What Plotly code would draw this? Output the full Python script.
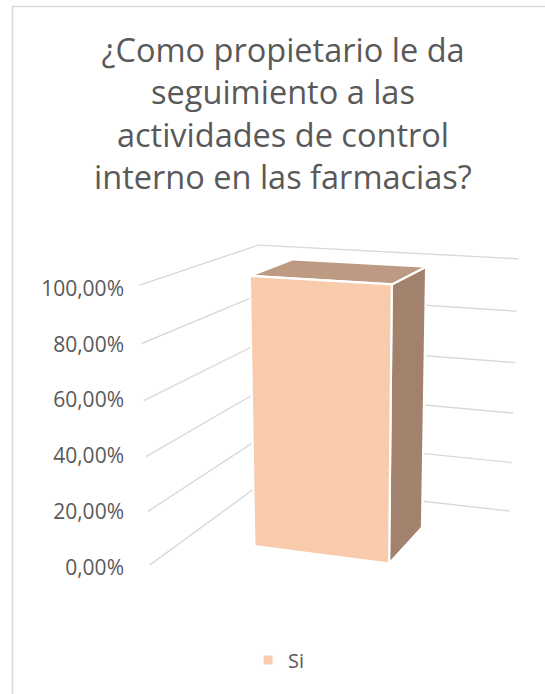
import numpy as np
import plotly.graph_objects as go

# ---- data ----
categories = ["Si"]
values = [1.0]                      # 100,00 %
tick_values = [0, 0.2, 0.4, 0.6, 0.8, 1.0]
axis_max = 1.0
title_text = "¿Como propietario le da<br>seguimiento a las<br>actividades de control<br>interno en las farmacias?"

# ---- style / 3-D view (Excel-like rotation X=20°, Y=15°, perspective) ----
W_PX, H_PX = 545, 694
YAW, PITCH = np.radians(20), np.radians(15)
FOCAL, CX, CY = 1398.0, 340.0, 415.0
BOX_W, BOX_D, BOX_H = 1.061, 1.009, 1.0
ORIGIN_CAM = np.array([-0.327, -0.285, 5.862])   # camera coords of back-left floor corner
BAR_WIDTH, BAR_DEPTH = 0.49, 0.40
FRONT_COLOR, TOP_COLOR, SIDE_COLOR = "#F8CBAD", "#BE9A83", "#A3826D"
GRID_COLOR, TEXT_COLOR = "#D9D9D9", "#595959"
FONT = "Open Sans"

cyw, syw = np.cos(YAW), np.sin(YAW)
cp, sp = np.cos(PITCH), np.sin(PITCH)
XDIR = np.array([cyw, -syw * sp, -syw * cp])
ZDIR = np.array([syw, cyw * sp, cyw * cp])
YDIR = np.array([0.0, cp, -sp])


def project(X, Z, Y):
    """X: 0..1 across, Z: 0 front .. 1 back, Y: value fraction 0..1 -> pixel (x, y)."""
    P = ORIGIN_CAM + X * BOX_W * XDIR + (Z - 1) * BOX_D * ZDIR + Y * BOX_H * YDIR
    return CX + FOCAL * P[0] / P[2], CY - FOCAL * P[1] / P[2]


def poly(pts):
    xs, ys = zip(*[project(*p) for p in pts])
    return list(xs) + [xs[0]], list(ys) + [ys[0]]


fig = go.Figure()

# gridlines on left wall and back wall
gx, gy = [], []
for t in tick_values:
    Y = t / axis_max
    for a, b in [((0, 0, Y), (0, 1, Y)), ((0, 1, Y), (1, 1, Y))]:
        p, q = project(*a), project(*b)
        gx += [p[0], q[0], None]
        gy += [p[1], q[1], None]
fig.add_trace(go.Scatter(x=gx, y=gy, mode="lines", line=dict(color=GRID_COLOR, width=1.4),
                         hoverinfo="skip", showlegend=False))

# bars
n = len(categories)
for i, (cat, v) in enumerate(zip(categories, values)):
    c = (i + 0.5) / n
    x0, x1 = c - BAR_WIDTH / (2 * n), c + BAR_WIDTH / (2 * n)
    z0, z1 = 0.5 - BAR_DEPTH / 2, 0.5 + BAR_DEPTH / 2
    Y = v / axis_max
    faces = [
        ([(x1, z0, 0), (x1, z1, 0), (x1, z1, Y), (x1, z0, Y)], SIDE_COLOR),
        ([(x0, z0, Y), (x1, z0, Y), (x1, z1, Y), (x0, z1, Y)], TOP_COLOR),
        ([(x0, z0, 0), (x1, z0, 0), (x1, z0, Y), (x0, z0, Y)], FRONT_COLOR),
    ]
    for pts, col in faces:
        xs, ys = poly(pts)
        fig.add_trace(go.Scatter(x=xs, y=ys, mode="lines", fill="toself", fillcolor=col,
                                 line=dict(color="white", width=2.2), hoverinfo="skip",
                                 showlegend=False))

# value axis (tick labels) aligned with the projected front-left edge
py0 = project(0, 0, 0)[1] + 2.5
py1 = project(0, 0, 1)[1] + 3.5
f0, f1 = 1 - py0 / H_PX, 1 - py1 / H_PX
span = axis_max / (f1 - f0)
r0 = -f0 * span
r1 = r0 + span

# legend entry
fig.add_trace(go.Scatter(x=[None], y=[None], yaxis="y2", mode="markers", name=categories[0],
                         marker=dict(symbol="square", size=9, color=FRONT_COLOR)))

fig.update_layout(
    width=W_PX, height=H_PX,
    margin=dict(l=0, r=0, t=0, b=0),
    paper_bgcolor="white", plot_bgcolor="white",
    separators=",.",
    font=dict(family=FONT, color=TEXT_COLOR),
    title=dict(text=title_text, x=283 / W_PX, xanchor="center", y=1 - 62 / H_PX, yanchor="top",
               font=dict(size=32.5, color=TEXT_COLOR, family=FONT)),
    xaxis=dict(range=[0, W_PX], visible=False, fixedrange=True),
    yaxis=dict(range=[H_PX, 0], visible=False, fixedrange=True),
    yaxis2=dict(range=[r0, r1], overlaying="y", anchor="free", position=124 / W_PX, side="left",
                tickvals=tick_values, tickformat=".2%", showgrid=False, zeroline=False,
                showline=False, ticks="", tickfont=dict(size=21, color=TEXT_COLOR, family=FONT)),
    showlegend=True,
    legend=dict(orientation="h", x=0.512, xanchor="center", y=1 - 660 / H_PX, yanchor="middle",
                font=dict(size=20, color=TEXT_COLOR, family=FONT), itemwidth=30),
    shapes=[dict(type="rect", xref="paper", yref="paper", x0=12.5 / W_PX, x1=1.2,
                 y0=-0.2, y1=1 - 6.5 / H_PX, line=dict(color=GRID_COLOR, width=1.5),
                 fillcolor="rgba(0,0,0,0)", layer="below")],
)

fig.write_html("out.html", config={"displayModeBar": False},
               post_script="document.body.style.margin='0px';")
